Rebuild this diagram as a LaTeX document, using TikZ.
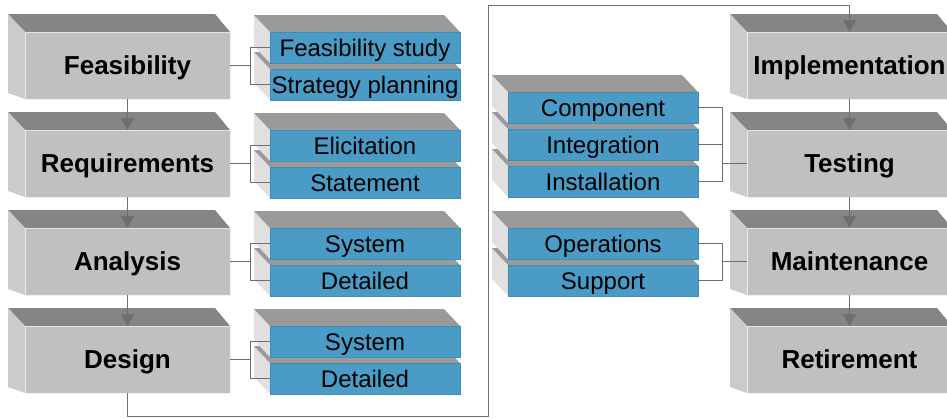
\documentclass[tikz,border=0pt]{standalone}
\usepackage{fontspec}
\setmainfont{Liberation Sans}
\usetikzlibrary{arrows.meta}
\definecolor{stagefront}{HTML}{C0C0C0}
\definecolor{stagetop}{HTML}{858585}
\definecolor{stageside}{HTML}{CBCBCB}
\definecolor{taskfront}{HTML}{4A9BC6}
\definecolor{tasktop}{HTML}{9A9A9A}
\definecolor{taskside}{HTML}{E0E0E0}
\definecolor{wire}{HTML}{6E6E6E}
\tikzset{
  stage/.style={fill=stagefront,draw=white!80!stagefront,line width=0.6pt,inner sep=0pt,outer sep=0pt,
    minimum width=205pt,minimum height=67pt,text height=18.6pt,text depth=0pt,
    font=\fontsize{26}{30}\selectfont\bfseries},
  task/.style={fill=taskfront,draw=taskfront!90!black,line width=0.4pt,inner sep=0pt,outer sep=0pt,
    minimum width=190pt,minimum height=31pt,text height=17.2pt,text depth=0pt,
    font=\fontsize{24}{28}\selectfont},
  arr/.style={draw=wire,line width=1.6pt,-{Triangle[width=13pt,length=12pt]}},
  link/.style={draw=wire,line width=0.9pt}
}
% gray stage block: name, x, y, text
\newcommand{\stagebox}[4]{%
  \node[stage] (#1) at (#2,#3) {#4};
  \fill[stagetop] (#1.north west) -- ++(-17,-18) -- ([shift={(-15,-18)}]#1.north east) -- (#1.north east) -- cycle;
  \fill[stageside] (#1.north west) -- ++(-17,-18) -- ([shift={(-17,-6)}]#1.south west) -- (#1.south west) -- cycle;
}
\begin{document}
\begin{tikzpicture}[x=1pt,y=-1pt]
\useasboundingbox (0,0) rectangle (947,418);

% stages
\stagebox{feas}{127.5}{65.5}{Feasibility}
\stagebox{req}{127.5}{163.5}{Requirements}
\stagebox{ana}{127.5}{261.5}{Analysis}
\stagebox{des}{127.5}{359.5}{Design}
\stagebox{impl}{849.5}{65.5}{Implementation}
\stagebox{test}{849.5}{163.5}{Testing}
\stagebox{maint}{849.5}{261.5}{Maintenance}
\stagebox{ret}{849.5}{359.5}{Retirement}

% tasks, lower block first
\foreach \nm/\cx/\cy/\txt in {fplan/365/84.5/Strategy planning, fstudy/365/47.5/Feasibility study,
    rstat/365/182.5/Statement, relic/365/145.5/Elicitation,
    adet/365/280.5/Detailed, asys/365/243.5/System,
    ddet/365/378.5/Detailed, dsys/365/341.5/System,
    iinst/603/181.5/Installation, iint/603/144.5/Integration, icomp/603/107.5/Component,
    msup/603/280.5/Support, mops/603/243.5/Operations}{
  \node[task,fill=none,draw=none] (\nm) at (\cx,\cy) {};
  \fill[taskside] (\nm.north west) -- ++(-16,-17) -- ([shift={(-16,-17)}]\nm.south west) -- (\nm.south west) -- cycle;
  \fill[tasktop] (\nm.north west) -- ++(-16,-17) -- ([shift={(-16,-17)}]\nm.north east) -- (\nm.north east) -- cycle;
  \node[task] at (\cx,\cy) {\txt};
}

% flow between stages
\draw[arr] (feas.south) -- (req.north);
\draw[arr] (req.south) -- (ana.north);
\draw[arr] (ana.south) -- (des.north);
\draw[arr] (impl.south) -- (test.north);
\draw[arr] (test.south) -- (maint.north);
\draw[arr] (maint.south) -- (ret.north);
\coordinate (loopa) at (488,416);
\coordinate (loopb) at (488,5);
\draw[draw=wire,line width=0.9pt,-{Triangle[width=13pt,length=12pt]}] (des.south) |- (loopa) -- (loopb) -| (impl.north);

% brackets to tasks
\foreach \st/\ta/\tb in {feas/fstudy/fplan, req/relic/rstat, ana/asys/adet, des/dsys/ddet}{
  \draw[link] (\st.east) -- ++(20,0) |- (\ta.west);
  \draw[link] (\st.east) -- ++(20,0) |- (\tb.west);
}
\draw[link] (test.west) -- ++(-25,0) |- (icomp.east);
\draw[link] (test.west) -- ++(-25,0) |- (iint.east);
\draw[link] (test.west) -- ++(-25,0) |- (iinst.east);
\draw[link] (maint.west) -- ++(-25,0) |- (mops.east);
\draw[link] (maint.west) -- ++(-25,0) |- (msup.east);
\end{tikzpicture}
\end{document}
